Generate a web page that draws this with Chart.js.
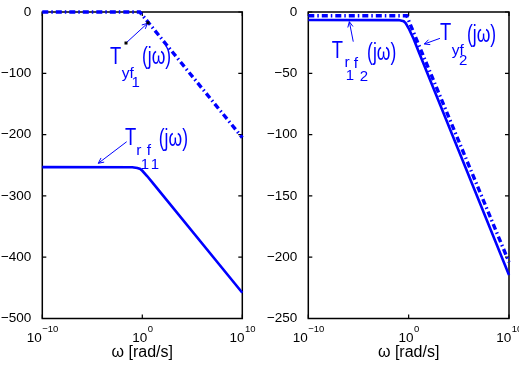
<!DOCTYPE html>
<html><head><meta charset="utf-8">
<script src="https://cdn.jsdelivr.net/npm/chart.js@4/dist/chart.umd.min.js"></script>
<style>
html,body{margin:0;padding:0;background:#fff;overflow:hidden}
#w{position:relative;width:519px;height:366px;background:#fff}
.c{position:absolute;top:0}
</style></head><body>
<div id="w">
<canvas id="c1" class="c" style="left:0" width="260" height="366"></canvas>
<canvas id="c2" class="c" style="left:260px" width="259" height="366"></canvas>
</div>
<script>
// ---- data ----
const omegaYf1 = [1e-10, 0.56, 1e10];
const magYf1   = [0, 0, -205];
const omegaRf1 = [1e-10, 0.1, 0.32, 0.63, 1, 3.16, 10, 1e10];
const magRf1   = [-253, -253.2, -254.5, -256, -259, -268, -278, -458];
const omegaYf2 = [1e-10, 0.63, 1e10];
const magYf2   = [-3, -3, -204];
const omegaRf2 = [1e-10, 0.1, 0.32, 0.5, 1, 3.16, 10, 1e10];
const magRf2   = [-6.5, -6.6, -7.5, -9, -13.3, -22, -32.5, -214.5];
const xTicks    = [1e-10, 1, 1e10];
const xTickExp  = ['\u221210', '0', '10'];
const yTicksLeft  = [0, -100, -200, -300, -400, -500];
const yTicksRight = [0, -50, -100, -150, -200, -250];
const xTitle = '\u03c9 [rad/s]';

const FONT = '"Liberation Sans", Arial, Helvetica, sans-serif';
const BLUE = '#0000ff';
const P = v => Math.pow(10, v);
function fmt(v){ return v < 0 ? '\u2212' + Math.abs(v) : String(v); }
function pts(xs, ys){ return xs.map((x, i) => ({x: x, y: ys[i]})); }

const framePlugin = {
  id: 'frame',
  beforeDatasetsDraw(chart){
    const {ctx, chartArea: a} = chart;
    const x = chart.scales.x, y = chart.scales.y;
    ctx.save();
    ctx.strokeStyle = '#000'; ctx.lineWidth = 1.5;
    ctx.strokeRect(a.left, a.top, a.right - a.left, a.bottom - a.top);
    const tl = 4;
    ctx.lineWidth = 1.2;
    ctx.beginPath();
    y.ticks.forEach(t => {
      const py = y.getPixelForValue(t.value);
      ctx.moveTo(a.left, py); ctx.lineTo(a.left + tl, py);
      ctx.moveTo(a.right, py); ctx.lineTo(a.right - tl, py);
    });
    xTicks.forEach(v => {
      const px = x.getPixelForValue(v);
      ctx.moveTo(px, a.bottom); ctx.lineTo(px, a.bottom - tl);
      ctx.moveTo(px, a.top); ctx.lineTo(px, a.top + tl);
    });
    ctx.stroke();
    // x tick labels with superscript exponents
    ctx.fillStyle = '#000'; ctx.textBaseline = 'alphabetic'; ctx.textAlign = 'left';
    xTicks.forEach((v, i) => {
      const px = x.getPixelForValue(v);
      ctx.font = '13.5px ' + FONT;
      const w1 = ctx.measureText('10').width;
      ctx.font = '9.5px ' + FONT;
      const w2 = ctx.measureText(xTickExp[i]).width;
      const s = px - (w1 + w2) / 2;
      ctx.font = '13.5px ' + FONT;
      ctx.fillText('10', s, a.bottom + 23.2);
      ctx.font = '9.5px ' + FONT;
      ctx.fillText(xTickExp[i], s + w1 + 0.5, a.bottom + 13.5);
    });
    ctx.restore();
  },
  afterDatasetsDraw(chart, args, opts){
    const {ctx} = chart;
    const x = chart.scales.x, y = chart.scales.y;
    (opts.notes || []).forEach(n => {
      const ax = x.getPixelForValue(n.at[0]), ay = y.getPixelForValue(n.at[1]);
      ctx.save();
      ctx.fillStyle = BLUE; ctx.textBaseline = 'alphabetic'; ctx.textAlign = 'left';
      n.parts.forEach(p => {
        ctx.font = p.s + 'px ' + FONT;
        ctx.save();
        ctx.translate(ax + p.dx, ay + p.dy);
        ctx.scale(p.sx || 1, 1);
        ctx.fillText(p.t, 0, 0);
        ctx.restore();
      });
      const tx = x.getPixelForValue(n.tail[0]), ty = y.getPixelForValue(n.tail[1]);
      const hx = x.getPixelForValue(n.head[0]), hy = y.getPixelForValue(n.head[1]);
      ctx.strokeStyle = BLUE; ctx.lineWidth = 1;
      ctx.beginPath(); ctx.moveTo(tx, ty); ctx.lineTo(hx, hy); ctx.stroke();
      const ang = Math.atan2(hy - ty, hx - tx), L = 6, A = 0.45;
      ctx.beginPath();
      ctx.moveTo(hx - L * Math.cos(ang - A), hy - L * Math.sin(ang - A));
      ctx.lineTo(hx, hy);
      ctx.lineTo(hx - L * Math.cos(ang + A), hy - L * Math.sin(ang + A));
      ctx.stroke();
      if (n.dots) {
        ctx.fillStyle = '#000';
        ctx.fillRect(tx - 1.5, ty - 1.5, 3, 3);
        ctx.fillRect(hx + 0.5 - 1.5, hy - 0.5 - 1.5, 3, 3);
      }
      ctx.restore();
    });
  }
};

function makeChart(id, cfg){
  return new Chart(document.getElementById(id), {
    type: 'line',
    data: { datasets: cfg.datasets },
    plugins: [framePlugin],
    options: {
      responsive: false, animation: false, devicePixelRatio: 1,
      layout: { padding: { left: 0, right: cfg.padRight, top: 12, bottom: 0 } },
      elements: { point: { radius: 0 }, line: { tension: 0 } },
      plugins: { legend: { display: false }, tooltip: { enabled: false }, frame: { notes: cfg.notes } },
      scales: {
        x: {
          type: 'logarithmic', min: 1e-10, max: 1e10,
          grid: { display: false }, border: { display: false },
          ticks: { display: false },
          title: { display: true, text: xTitle, color: '#000', font: { family: FONT, size: 16 }, padding: { top: 0, bottom: 4 } },
          afterFit: s => { s.height = 47.5; }
        },
        y: {
          type: 'linear', min: cfg.yMin, max: 0,
          grid: { display: false }, border: { display: false },
          afterBuildTicks: s => { s.ticks = cfg.yTicks.map(v => ({ value: v })); },
          ticks: { color: '#000', padding: 3, font: { family: FONT, size: 13.5 }, callback: v => fmt(v) },
          afterFit: s => { s.width = cfg.yWidth; }
        }
      }
    }
  });
}

const dashDot = [6, 3, 1.5, 3];

makeChart('c1', {
  padRight: 17.7, yWidth: 42.3, yMin: -500, yTicks: yTicksLeft,
  datasets: [
    { data: pts(omegaYf1, magYf1), borderColor: BLUE, borderWidth: 3.4, borderDash: dashDot, fill: false, clip: 4 },
    { data: pts(omegaRf1, magRf1), borderColor: BLUE, borderWidth: 2.6, fill: false, clip: 4 }
  ],
  notes: [
    { at: [P(-3.23), -84.8], tail: [P(-1.63), -50.6], head: [P(0.52), -18.4], dots: true,
      parts: [ {t: 'T', dx: 0, dy: 0, s: 23, sx: 0.8}, {t: 'yf', dx: 11.7, dy: 14, s: 15.5},
               {t: '1', dx: 21.5, dy: 23.5, s: 15}, {t: '(j\u03c9)', dx: 32, dy: 0, s: 23, sx: 0.76} ] },
    { at: [P(-1.73), -216.9], tail: [P(-1.56), -211.6], head: [P(-4.4), -246.8],
      parts: [ {t: 'T', dx: 0, dy: 0, s: 23, sx: 0.8}, {t: 'r', dx: 11.2, dy: 10, s: 15.5},
               {t: '1', dx: 15.7, dy: 24.5, s: 15}, {t: 'f', dx: 21.7, dy: 10, s: 15.5},
               {t: '1', dx: 25.7, dy: 24.5, s: 15}, {t: '(j\u03c9)', dx: 33.8, dy: 1, s: 23, sx: 0.76} ] }
  ]
});

makeChart('c2', {
  padRight: 10, yWidth: 48.3, yMin: -250, yTicks: yTicksRight,
  datasets: [
    { data: pts(omegaYf2, magYf2), borderColor: BLUE, borderWidth: 3.4, borderDash: dashDot, fill: false, clip: 4 },
    { data: pts(omegaRf2, magRf2), borderColor: BLUE, borderWidth: 2.6, fill: false, clip: 4 }
  ],
  notes: [
    { at: [P(-7.67), -37.8], tail: [P(-5.52), -24.2], head: [P(-5.91), -7.9],
      parts: [ {t: 'T', dx: 0, dy: 0, s: 23, sx: 0.8}, {t: 'r', dx: 12.8, dy: 9, s: 15.5},
               {t: '1', dx: 14, dy: 22, s: 15}, {t: 'f', dx: 22, dy: 10, s: 15.5},
               {t: '2', dx: 28, dy: 23, s: 15}, {t: '(j\u03c9)', dx: 35.4, dy: 1.5, s: 23, sx: 0.76} ] },
    { at: [P(3.12), -22.8], tail: [P(3.12), -21.5], head: [P(1.56), -26.1],
      parts: [ {t: 'T', dx: 0, dy: 0, s: 23, sx: 0.8}, {t: 'yf', dx: 11.7, dy: 15, s: 15.5},
               {t: '2', dx: 19, dy: 25, s: 15}, {t: '(j\u03c9)', dx: 27, dy: 2, s: 23, sx: 0.76} ] }
  ]
});
</script>
</body></html>
